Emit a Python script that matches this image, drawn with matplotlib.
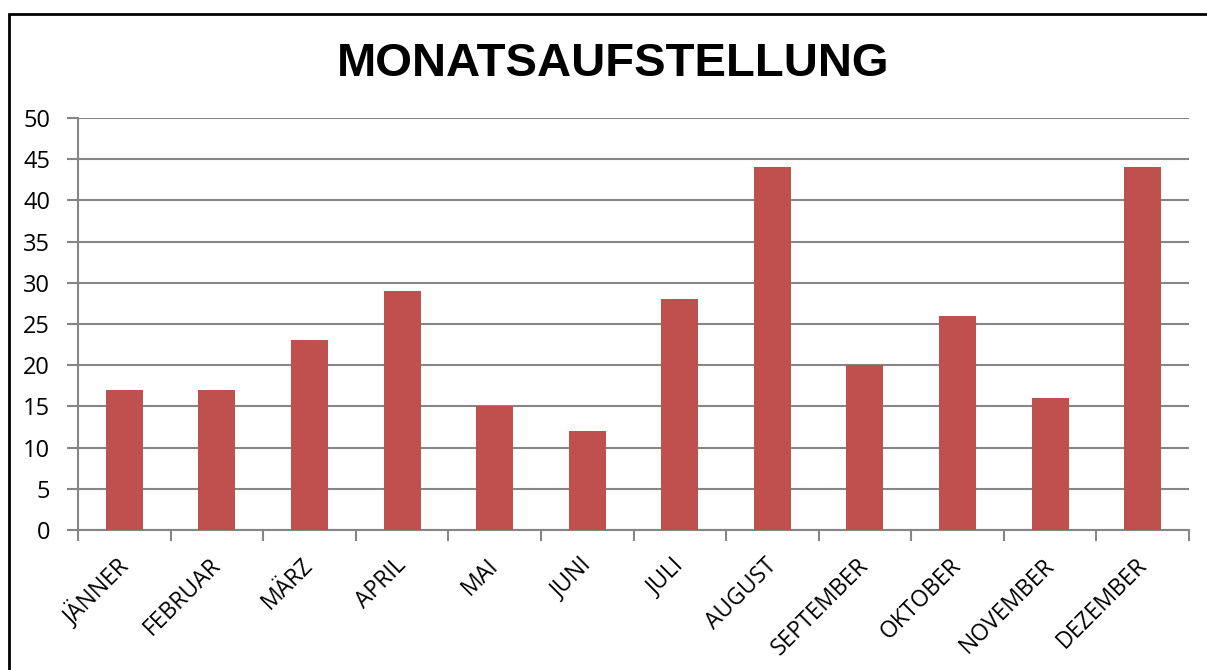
import matplotlib
matplotlib.use('Agg')
import matplotlib.pyplot as plt
import matplotlib.transforms as mtransforms
import numpy as np
from matplotlib.patches import Rectangle

MONTHS = ['JÄNNER', 'FEBRUAR', 'MÄRZ', 'APRIL', 'MAI', 'JUNI', 'JULI',
          'AUGUST', 'SEPTEMBER', 'OKTOBER', 'NOVEMBER', 'DEZEMBER']
VALUES = [17, 17, 23, 29, 15, 12, 28, 44, 20, 26, 16, 44]
Y_TICKS = list(range(0, 55, 5))

GRID = '#868686'
BAR = '#C0504D'

fig = plt.figure(figsize=(12.07, 6.70), dpi=100)
ax = fig.add_axes([78 / 1207, 1 - 530 / 670, (1189 - 78) / 1207, (530 - 118) / 670])

x = np.arange(len(MONTHS))
ax.bar(x, VALUES, width=0.4, color=BAR, zorder=3)
ax.set_xlim(-0.5, len(MONTHS) - 0.5)
ax.set_ylim(0, 50)

ax.set_yticks(Y_TICKS)
ax.set_yticklabels([str(v) for v in Y_TICKS], fontsize=17, family='Open Sans')
ax.tick_params(axis='y', length=8, color=GRID, width=1.5, pad=12)
ax.yaxis.grid(True, color=GRID, lw=1.5, zorder=0)

# x ticks sit between categories, labels centered under bars
ax.set_xticks(np.arange(-0.5, len(MONTHS)), minor=False)
ax.set_xticklabels([])
ax.tick_params(axis='x', length=8, color=GRID, width=1.5)
ax.set_xticks(x, minor=True)
ax.set_xticklabels(MONTHS, minor=True, rotation=45, ha='right',
                   rotation_mode='anchor', fontsize=16.5, family='Open Sans')
ax.tick_params(axis='x', which='minor', length=0, pad=17)
shift = mtransforms.ScaledTranslation(-8 / 100, 0, fig.dpi_scale_trans)
for lbl in ax.get_xticklabels(minor=True):
    lbl.set_transform(lbl.get_transform() + shift)

for side in ['top', 'right']:
    ax.spines[side].set_visible(False)
ax.spines['left'].set_color(GRID)
ax.spines['bottom'].set_color(GRID)
ax.spines['left'].set_linewidth(1.5)
ax.spines['bottom'].set_linewidth(1.5)

fig.text(613 / 1207, 1 - 64 / 670, 'MONATSAUFSTELLUNG', ha='center', va='center',
         fontsize=34, fontweight='bold', family='Liberation Sans')

# outer chart frame (runs off the right and bottom edge)
fig.patches.append(Rectangle((9 / 1207, -0.1), 1.2, 1 - 14 / 670 + 0.1,
                             transform=fig.transFigure, fill=False,
                             edgecolor='black', lw=2))

fig.savefig('out.png', dpi=100)
